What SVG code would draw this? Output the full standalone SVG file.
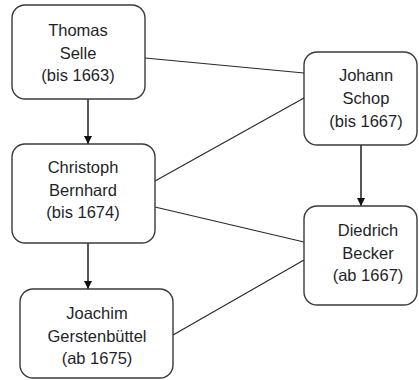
<svg xmlns="http://www.w3.org/2000/svg" width="419" height="380" viewBox="0 0 419 380">
  <style>
    .box { fill: #ffffff; stroke: #3a3a3a; stroke-width: 1.4; }
    .lbl { font-family: "Liberation Sans", Arial, sans-serif; font-size: 16.5px; fill: #1f1f2a; text-anchor: middle; }
    .link { stroke: #2a2a2a; stroke-width: 1.2; fill: none; }
    .arrow { stroke: #111111; stroke-width: 1.4; fill: none; marker-end: url(#head); }
  </style>
  <defs>
    <marker id="head" markerWidth="10" markerHeight="10" refX="9" refY="5" orient="auto" markerUnits="userSpaceOnUse">
      <path d="M1,1 L9,5 L1,9 Z" fill="#111111"/>
    </marker>
  </defs>
  <rect width="419" height="380" fill="#ffffff"/>

  <g id="connectors">
    <line class="link" x1="145" y1="58" x2="304" y2="73"/>
    <line class="link" x1="155" y1="181" x2="304" y2="98"/>
    <line class="link" x1="155" y1="207" x2="304" y2="242"/>
    <line class="link" x1="173" y1="335" x2="304" y2="260"/>
    <line class="arrow" x1="88" y1="99" x2="88" y2="144"/>
    <line class="arrow" x1="88" y1="243" x2="88" y2="289"/>
    <line class="arrow" x1="361" y1="145" x2="361" y2="206"/>
  </g>

  <g id="thomas-selle">
    <rect class="box" x="12" y="5" width="133" height="94" rx="13"/>
    <text class="lbl" x="78" y="36">Thomas</text>
    <text class="lbl" x="78" y="59">Selle</text>
    <text class="lbl" x="78" y="81">(bis 1663)</text>
  </g>

  <g id="christoph-bernhard">
    <rect class="box" x="12" y="144" width="143" height="99" rx="13"/>
    <text class="lbl" x="83" y="173">Christoph</text>
    <text class="lbl" x="83" y="196">Bernhard</text>
    <text class="lbl" x="83" y="218">(bis 1674)</text>
  </g>

  <g id="joachim-gerstenbuettel">
    <rect class="box" x="20" y="289" width="153" height="89" rx="13"/>
    <text class="lbl" x="97" y="319">Joachim</text>
    <text class="lbl" x="97" y="342">Gerstenbüttel</text>
    <text class="lbl" x="97" y="364">(ab 1675)</text>
  </g>

  <g id="johann-schop">
    <rect class="box" x="304" y="52" width="113" height="93" rx="13"/>
    <text class="lbl" x="366" y="81">Johann</text>
    <text class="lbl" x="366" y="104">Schop</text>
    <text class="lbl" x="366" y="127">(bis 1667)</text>
  </g>

  <g id="diedrich-becker">
    <rect class="box" x="304" y="206" width="113" height="99" rx="13"/>
    <text class="lbl" x="368" y="236">Diedrich</text>
    <text class="lbl" x="368" y="259">Becker</text>
    <text class="lbl" x="368" y="281">(ab 1667)</text>
  </g>
</svg>
